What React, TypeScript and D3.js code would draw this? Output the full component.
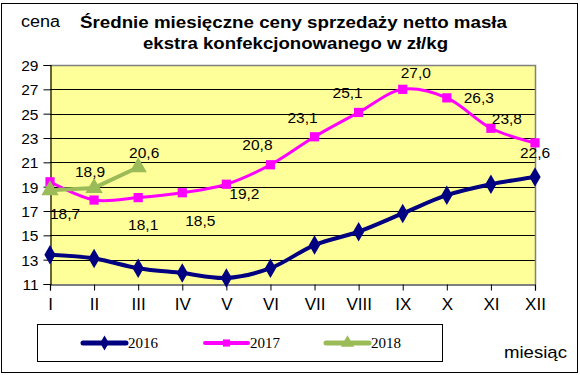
import React, { useEffect, useRef } from "react";
import * as d3 from "d3";

const months = ["I", "II", "III", "IV", "V", "VI", "VII", "VIII", "IX", "X", "XI", "XII"];
const yTicks = [11, 13, 15, 17, 19, 21, 23, 25, 27, 29];

const v2016 = [13.4, 13.1, 12.3, 11.9, 11.5, 12.3, 14.2, 15.3, 16.8, 18.3, 19.2, 19.8];
const v2017 = [19.4, 17.9, 18.1, 18.5, 19.2, 20.8, 23.1, 25.1, 27.0, 26.3, 23.8, 22.6];
const v2018 = [18.7, 18.9, 20.6];

// which points carry a value label, and where the label sits relative to the point
const labels2017 = [null, null, [5, 27], [18, 28], [18, 9], [-13, -20], [-12, -19], [-11, -20], [13, -17], [32, 0], [16, -10], [0, 10]];
const labels2018 = [[15, 23], [-4, -16], [6, -15]];

const App = () => {
  const svgRef = useRef(null);

  useEffect(() => {
    const width = 580, height = 375;
    const left = 50, right = 535, top = 65, bottom = 284;
    const sans = "Arial, 'Liberation Sans', sans-serif";

    const svg = d3.select(svgRef.current);
    svg.selectAll("*").remove();

    svg.append("rect")
      .attr("x", 0).attr("y", 0).attr("width", width).attr("height", height)
      .attr("fill", "#fff");
    svg.append("rect")
      .attr("x", 1.5).attr("y", 3.5).attr("width", 576).attr("height", 369)
      .attr("fill", "none").attr("stroke", "#000").attr("stroke-width", 1);

    const x = d3.scalePoint().domain(months).range([left, right]);
    const y = d3.scaleLinear().domain([11, 29]).range([bottom, top]);

    // plot area
    svg.append("rect")
      .attr("x", left).attr("y", top).attr("width", right - left).attr("height", bottom - top)
      .attr("fill", "#FFFF99");

    svg.append("g")
      .selectAll("line")
      .data(yTicks.slice(1))
      .enter().append("line")
      .attr("x1", left).attr("x2", right)
      .attr("y1", d => Math.round(y(d)) + 0.5).attr("y2", d => Math.round(y(d)) + 0.5)
      .attr("stroke", "#000").attr("stroke-width", 1);

    svg.append("path")
      .attr("d", `M${left},${top + 0.5}H${right + 0.5}V${bottom}`)
      .attr("fill", "none").attr("stroke", "#808080").attr("stroke-width", 1.5);

    // axes
    const yAxis = svg.append("g")
      .attr("transform", `translate(${left + 0.5},0)`)
      .call(d3.axisLeft(y).tickValues(yTicks).tickSize(7).tickPadding(5).tickFormat(d3.format("d")));
    const xAxis = svg.append("g")
      .attr("transform", `translate(0,${bottom + 0.5})`)
      .call(d3.axisBottom(x).tickSize(6).tickPadding(7));
    [yAxis, xAxis].forEach(g => {
      g.select(".domain").attr("stroke", "#000").attr("stroke-width", 1.2);
      g.selectAll(".tick line").attr("stroke", "#000");
      g.selectAll("text")
        .attr("font-family", sans)
        .attr("font-size", 15)
        .attr("fill", "#000");
    });
    yAxis.selectAll("text").attr("dy", "0.35em").attr("font-size", 15.5);
    xAxis.selectAll("text").attr("font-size", 17);

    const smooth = d3.line().x((d, i) => x(months[i])).y(d => y(d)).curve(d3.curveCatmullRom.alpha(0.5));
    const straight = d3.line().x((d, i) => x(months[i])).y(d => y(d));

    const series = [
      { data: v2016, color: "#000080", width: 4, line: smooth, marker: d3.symbolDiamond, size: 110 },
      { data: v2017, color: "#FF00FF", width: 3, line: smooth, marker: d3.symbolSquare, size: 85 },
      { data: v2018, color: "#9BBB59", width: 4, line: straight, marker: d3.symbolTriangle, size: 130 },
    ];

    series.forEach(s => {
      svg.append("path")
        .datum(s.data)
        .attr("d", s.line)
        .attr("fill", "none")
        .attr("stroke", s.color)
        .attr("stroke-width", s.width)
        .attr("stroke-linejoin", "round");
      svg.append("g")
        .selectAll("path")
        .data(s.data)
        .enter().append("path")
        .attr("transform", (d, i) => `translate(${x(months[i])},${y(d)})`)
        .attr("d", d3.symbol().type(s.marker).size(s.size))
        .attr("fill", s.color);
    });

    const fmt = v => v.toFixed(1).replace(".", ",");
    const addLabels = (data, offs) => {
      svg.append("g")
        .selectAll("text")
        .data(data.map((v, i) => ({ v, i, o: offs[i] })).filter(d => d.o))
        .enter().append("text")
        .attr("x", d => x(months[d.i]) + d.o[0])
        .attr("y", d => y(d.v) + d.o[1])
        .attr("text-anchor", "middle")
        .attr("dominant-baseline", "central")
        .attr("font-family", sans)
        .attr("font-size", 15.5)
        .attr("fill", "#000")
        .text(d => fmt(d.v));
    };
    addLabels(v2017, labels2017);
    addLabels(v2018, labels2018);

    // titles
    svg.append("text")
      .attr("x", 21).attr("y", 27)
      .attr("font-family", sans).attr("font-size", 16)
      .attr("textLength", 39).attr("lengthAdjust", "spacingAndGlyphs")
      .text("cena");
    svg.append("text")
      .attr("x", 80).attr("y", 28)
      .attr("font-family", sans).attr("font-size", 17).attr("font-weight", "bold")
      .attr("textLength", 427).attr("lengthAdjust", "spacingAndGlyphs")
      .text("Średnie miesięczne ceny sprzedaży netto masła");
    svg.append("text")
      .attr("x", 143).attr("y", 49)
      .attr("font-family", sans).attr("font-size", 17).attr("font-weight", "bold")
      .attr("textLength", 305).attr("lengthAdjust", "spacingAndGlyphs")
      .text("ekstra konfekcjonowanego w zł/kg");
    svg.append("text")
      .attr("x", 504).attr("y", 358)
      .attr("font-family", sans).attr("font-size", 17)
      .attr("textLength", 63).attr("lengthAdjust", "spacingAndGlyphs")
      .text("miesiąc");

    // legend
    svg.append("rect")
      .attr("x", 37.5).attr("y", 324.5).attr("width", 405).attr("height", 37)
      .attr("fill", "#fff").attr("stroke", "#000").attr("stroke-width", 1);
    const legendX = [83, 205, 326];
    const names = ["2016", "2017", "2018"];
    series.forEach((s, i) => {
      const g = svg.append("g").attr("transform", `translate(${legendX[i]},343)`);
      g.append("line")
        .attr("x1", 0).attr("x2", 43).attr("y1", 0).attr("y2", 0)
        .attr("stroke", s.color).attr("stroke-width", s.width + 1).attr("stroke-linecap", "round");
      g.append("path")
        .attr("transform", "translate(21.5,0)")
        .attr("d", d3.symbol().type(s.marker).size(s.size * 0.6))
        .attr("fill", s.color);
      g.append("text")
        .attr("x", 45).attr("y", 0)
        .attr("dominant-baseline", "central")
        .attr("font-family", "'Times New Roman', 'Liberation Serif', serif")
        .attr("font-size", 15)
        .text(names[i]);
    });
  }, []);

  return <svg ref={svgRef} width={580} height={375} style={{ display: "block", position: "absolute", left: 0, top: 0 }}></svg>;
};

export default App;
